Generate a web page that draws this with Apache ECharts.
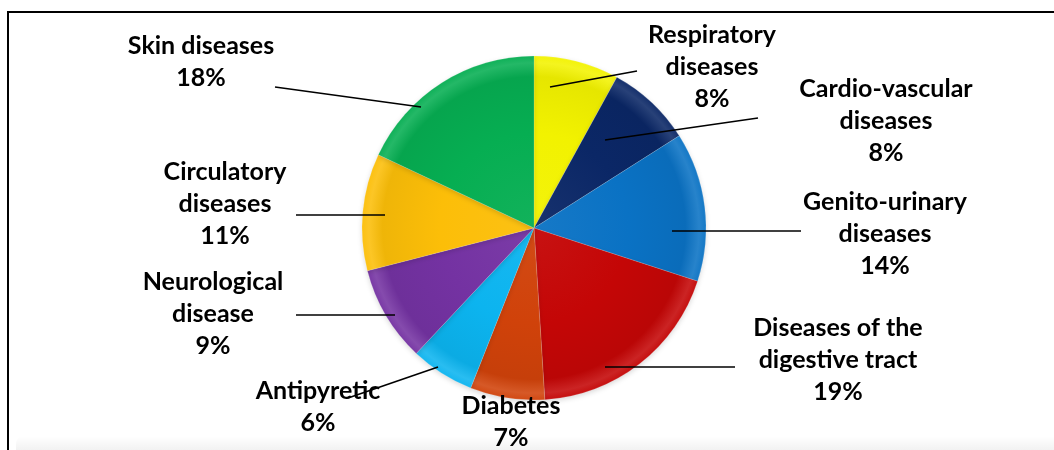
<!DOCTYPE html>
<html>
<head>
<meta charset="utf-8">
<title>Disease categories</title>
<script src="https://cdn.jsdelivr.net/npm/echarts@6/dist/echarts.min.js"></script>
<style>
  html, body { margin: 0; padding: 0; background: #fff; }
  #chart { width: 1054px; height: 450px; }
</style>
</head>
<body>
<div id="chart"></div>
<script>
// Disease categories, clockwise from 12 o'clock
const categories = [
  'Respiratory\ndiseases',
  'Cardio-vascular\ndiseases',
  'Genito-urinary\ndiseases',
  'Diseases of the\ndigestive tract',
  'Diabetes',
  'Antipyretic',
  'Neurological\ndisease',
  'Circulatory\ndiseases',
  'Skin diseases'
];
// Share of each category, in percent
const shares = [8, 8, 14, 19, 7, 6, 9, 11, 18];
const sliceColors = ['#f2f200', '#0b2766', '#0a72c4', '#c40606', '#d0420a', '#0cb4ef', '#7432a2', '#fcbe08', '#06ae52'];

// Label placement: block centre and leader line (start inside the slice, end near the text)
const labelSpots = [
  { x: 712, y: 67,  line: [[550, 87], [637, 71]] },
  { x: 886, y: 121, line: [[605, 140], [758, 118]] },
  { x: 885, y: 234, line: [[672, 231], [801, 231]] },
  { x: 838, y: 360, line: [[605, 367], [735, 367]] },
  { x: 511, y: 422, line: null },
  { x: 318, y: 407, line: [[438, 367], [348, 398]] },
  { x: 213, y: 314, line: [[395, 315], [296, 315]] },
  { x: 225, y: 204, line: [[385, 215], [296, 215]] },
  { x: 201, y: 62,  line: [[421, 107], [275, 87]] }
];

const CX = 534, CY = 228, R = 172;

function shade(hex, amt) {
  const n = parseInt(hex.slice(1), 16);
  let r = (n >> 16) & 255, g = (n >> 8) & 255, b = n & 255;
  const f = c => Math.max(0, Math.min(255, Math.round(amt >= 0 ? c + (255 - c) * amt : c * (1 + amt))));
  return 'rgb(' + f(r) + ',' + f(g) + ',' + f(b) + ')';
}

function bevel(hex) {
  return {
    type: 'radial', x: CX, y: CY, r: R, global: true,
    colorStops: [
      { offset: 0, color: shade(hex, 0.05) },
      { offset: 0.55, color: hex },
      { offset: 0.88, color: shade(hex, -0.05) },
      { offset: 0.96, color: shade(hex, 0.12) },
      { offset: 1, color: shade(hex, 0.04) }
    ]
  };
}

const labelText = {
  show: true,
  formatter: '{b}\n{c}%',
  fontFamily: 'Lato',
  fontWeight: 'bold',
  fontSize: 25,
  lineHeight: 32,
  color: '#000',
  align: 'center'
};

function placeLabel(params) {
  const spot = labelSpots[params.dataIndex];
  const out = { x: spot.x, y: spot.y, align: 'center', verticalAlign: 'middle' };
  if (spot.line) out.labelLinePoints = spot.line;
  return out;
}

const chart = echarts.init(document.getElementById('chart'), null, { renderer: 'canvas' });

chart.setOption({
  animation: false,
  backgroundColor: '#ffffff',
  graphic: [
    {
      type: 'rect', z: -10, silent: true,
      shape: { x: 16, y: 436, width: 1060, height: 40, r: 8 },
      style: {
        fill: {
          type: 'linear', x: 0, y: 0, x2: 0, y2: 1,
          colorStops: [
            { offset: 0, color: 'rgba(0,0,0,0.0)' },
            { offset: 0.35, color: 'rgba(0,0,0,0.05)' },
            { offset: 1, color: 'rgba(0,0,0,0.07)' }
          ]
        }
      }
    },
    {
      type: 'rect', z: 10, silent: true,
      shape: { x: 8, y: 12, width: 1070, height: 470 },
      style: { fill: 'none', stroke: '#000', lineWidth: 2 }
    }
  ],
  series: [
    // Coloured slices
    {
      type: 'pie',
      z: 2,
      center: [CX, CY],
      radius: R,
      startAngle: 90,
      clockwise: true,
      data: categories.map((name, i) => ({
        name: name,
        value: shares[i],
        itemStyle: { color: bevel(sliceColors[i]) }
      })),
      itemStyle: {
        borderColor: 'rgba(255,255,255,0.25)',
        borderWidth: 0.6,
        shadowColor: 'rgba(0,0,0,0.15)',
        shadowBlur: 5,
        shadowOffsetY: 2
      },
      label: { show: false },
      labelLine: { show: false }
    },
    // Transparent copy on top that carries the labels and leader lines
    {
      type: 'pie',
      z: 5,
      silent: true,
      center: [CX, CY],
      radius: R,
      startAngle: 90,
      clockwise: true,
      avoidLabelOverlap: false,
      data: categories.map((name, i) => ({
        name: name,
        value: shares[i],
        labelLine: { show: labelSpots[i].line !== null }
      })),
      itemStyle: { color: 'rgba(0,0,0,0)', borderWidth: 0 },
      label: labelText,
      labelLine: {
        show: true,
        lineStyle: { color: '#000', width: 1.6 }
      },
      labelLayout: placeLabel
    }
  ]
});
</script>
</body>
</html>
